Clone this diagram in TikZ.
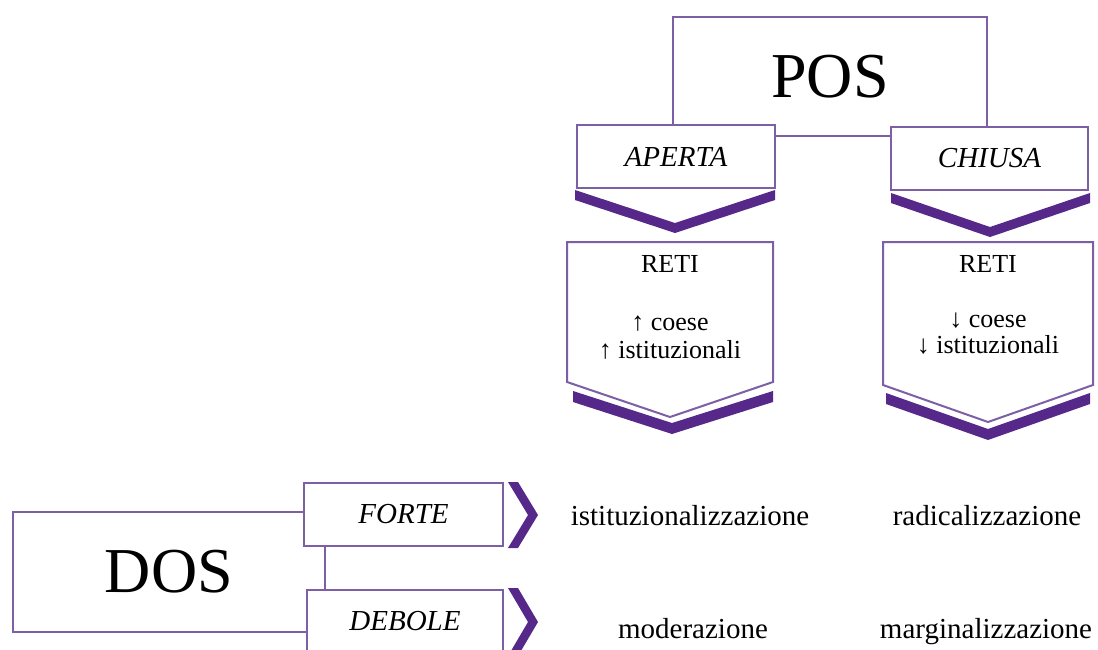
\documentclass[tikz,border=0pt]{standalone}
\usepackage{fontspec}
\setmainfont{Liberation Serif}
\definecolor{frame}{RGB}{125,95,165}
\definecolor{chev}{RGB}{86,40,138}
\begin{document}
\begin{tikzpicture}[x=1pt,y=-1pt,
  boxline/.style={draw=frame,line width=2pt,fill=white,inner sep=0pt},
  labelbox/.style={boxline,minimum width=#1,minimum height=63pt,
    font=\fontsize{29}{31}\selectfont\itshape},
  bigbox/.style={boxline,font=\fontsize{64}{64}\selectfont},
  body/.style={font=\fontsize{29}{31}\selectfont,inner sep=0pt,anchor=base},
  small/.style={font=\fontsize{26}{28}\selectfont,inner sep=0pt,anchor=base},
  shield/.style={draw=frame,line width=2pt,fill=white,line join=miter},
  chevron/.style={fill=chev,draw=none}
]
\useasboundingbox (0,0) rectangle (1098,649);

% ---------- POS with its two branches ----------
\node[bigbox,minimum width=314pt,minimum height=119pt] (pos) at (830,76.5) {POS};
\node[labelbox=198pt] (aperta) at (676,156.5) {APERTA};
\node[labelbox=197pt] (chiusa) at (989.5,158.5) {CHIUSA};

% down chevrons under the branch labels
\fill[chevron] (575,190) -- (675,223) -- (775,190) -- (775,200) -- (675,233) -- (575,200) -- cycle;
\fill[chevron] (891,193) -- (990,227) -- (1090,193) -- (1090,203) -- (990,237) -- (891,203) -- cycle;

% network shields
\draw[shield] (567,242) -- (773,242) -- (773,382) -- (670,417) -- (567,382) -- cycle;
\draw[shield] (883,242) -- (1093,242) -- (1093,385) -- (988,422) -- (883,385) -- cycle;

\node[small] (retiA) at (670,272) {RETI};
\node[small] (coeseA) at (670,330) {↑ coese};
\node[small] (istA) at (670,358) {↑ istituzionali};

\node[small] (retiB) at (988,272) {RETI};
\node[small] (coeseB) at (988,327) {↓ coese};
\node[small] (istB) at (988,353) {↓ istituzionali};

% down chevrons under the shields
\fill[chevron] (573,391) -- (672,423) -- (773,391) -- (773,402) -- (672,434) -- (573,402) -- cycle;
\fill[chevron] (886,393) -- (988,429) -- (1090,393) -- (1090,404) -- (988,440) -- (886,404) -- cycle;

% ---------- DOS with its two branches ----------
\node[bigbox,minimum width=312pt,minimum height=120pt] (dos) at (169,572) {DOS};
\node[labelbox=199pt] (forte) at (403.5,514.5) {FORTE};
\node[labelbox=196pt] (debole) at (405,621.5) {DEBOLE};

% right chevrons
\fill[chevron] (508,482) -- (528,515) -- (508,548) -- (518,548) -- (538,515) -- (518,482) -- cycle;
\fill[chevron] (508,588) -- (528,622) -- (508,656) -- (518,656) -- (538,622) -- (518,588) -- cycle;

% outcomes
\node[body] (istit) at (690,525) {istituzionalizzazione};
\node[body] (radic) at (987,525) {radicalizzazione};
\node[body] (moder) at (693,638) {moderazione};
\node[body] (margi) at (986,638) {marginalizzazione};
\end{tikzpicture}
\end{document}
